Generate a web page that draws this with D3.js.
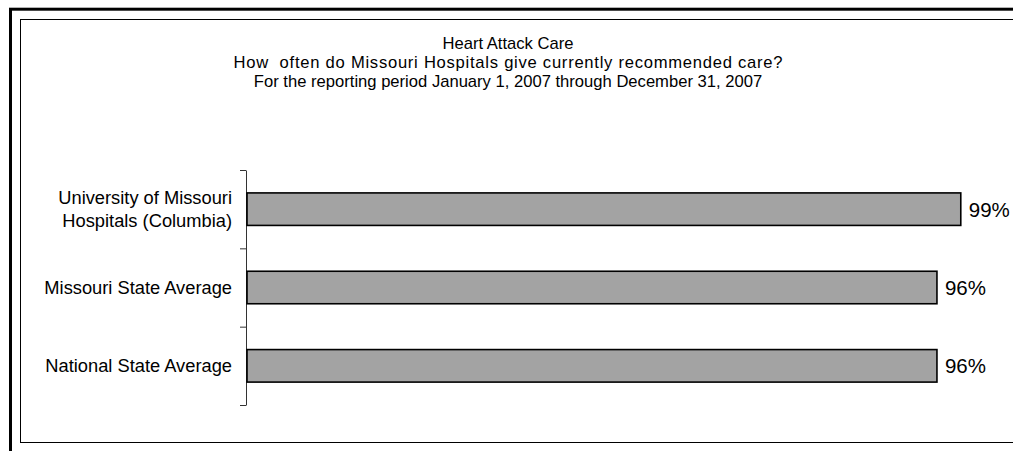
<!DOCTYPE html>
<html>
<head>
<meta charset="utf-8">
<script src="https://cdn.jsdelivr.net/npm/d3@7"></script>
<style>
  body { margin: 0; background: #fff; }
  svg { display: block; font-family: Arial, "Liberation Sans", sans-serif; }
</style>
</head>
<body>
<div id="chart-area"></div>
<script>
// chart data
var titleLines = [
    "Heart Attack Care",
    "How  often do Missouri Hospitals give currently recommended care?",
    "For the reporting period January 1, 2007 through December 31, 2007"
];
var categories = [
    ["University of Missouri", "Hospitals (Columbia)"],
    ["Missouri State Average"],
    ["National State Average"]
];
var values = [0.99, 0.957, 0.957];

var width = 1013, height = 451;
var margin = {top: 170, left: 246, bottom: 46};
// second title line is set looser in the original
var titleWidths = [null, 549, null];

var svg = d3.select("#chart-area")
    .append("svg")
        .attr("width", width)
        .attr("height", height);

// outer thick frame and inner chart border
svg.append("rect")
    .attr("x", 10.5).attr("y", 9.2)
    .attr("width", width + 20).attr("height", height + 20)
    .attr("fill", "none")
    .attr("stroke", "#000")
    .attr("stroke-width", 3);

svg.append("rect")
    .attr("x", 20.5).attr("y", 19.5)
    .attr("width", width + 20).attr("height", 423)
    .attr("fill", "#fff")
    .attr("stroke", "#000")
    .attr("stroke-width", 1);

// title
svg.append("g")
    .attr("class", "title")
    .selectAll("text")
    .data(titleLines)
    .enter()
    .append("text")
        .attr("x", 508)
        .attr("y", (d, i) => 49 + i * 19)
        .attr("text-anchor", "middle")
        .attr("textLength", (d, i) => titleWidths[i])
        .attr("lengthAdjust", "spacing")
        .style("white-space", "pre")
        .style("font-size", "16.6px")
        .style("fill", "#000")
        .text(d => d);

var idx = d3.range(categories.length);

var x = d3.scaleLinear()
    .domain([0, 1])
    .range([margin.left, 968]);

var y = d3.scaleBand()
    .domain(idx)
    .range([margin.top, height - margin.bottom])
    .paddingInner(0.585)
    .paddingOuter(0.2925);

// boundaries between categories, for the tick marks
var yEdge = d3.scaleLinear()
    .domain([0, categories.length])
    .range([margin.top, height - margin.bottom]);

svg.append("g")
    .attr("class", "y-axis")
    .attr("transform", "translate(" + margin.left + ",0)")
    .call(d3.axisLeft(yEdge)
        .tickValues(d3.range(categories.length + 1))
        .tickSize(6)
        .tickSizeOuter(0)
        .tickFormat(""))
    .call(g => g.selectAll("path, line").attr("stroke", "#333"));

// category labels
svg.append("g")
    .attr("class", "y-labels")
    .selectAll("text")
    .data(idx)
    .enter()
    .append("text")
        .attr("x", margin.left - 14)
        .attr("y", d => y(d) + y.bandwidth() / 2)
        .attr("text-anchor", "end")
        .style("font-size", "18.3px")
        .style("fill", "#000")
        .each(function(d) {
            var lines = categories[d];
            var t = d3.select(this);
            lines.forEach(function(l, i) {
                t.append("tspan")
                    .attr("x", margin.left - 14)
                    .attr("dy", i == 0 ? (0.35 - (lines.length - 1) * 0.62) + "em" : "1.24em")
                    .text(l);
            });
        });

// bars
svg.append("g")
    .attr("class", "bars")
    .selectAll("rect")
    .data(idx)
    .enter()
    .append("rect")
        .attr("x", x(0) + 1)
        .attr("y", d => y(d))
        .attr("width", d => x(values[d]) - x(0) - 1)
        .attr("height", y.bandwidth())
        .attr("fill", "#a3a3a3")
        .attr("stroke", "#000")
        .attr("stroke-width", 1.6);

// value labels
svg.append("g")
    .attr("class", "value-labels")
    .selectAll("text")
    .data(idx)
    .enter()
    .append("text")
        .attr("x", d => x(values[d]) + 8)
        .attr("y", d => y(d) + y.bandwidth() / 2)
        .attr("dy", "0.36em")
        .style("font-size", "20.5px")
        .style("fill", "#000")
        .text(d => d3.format(".0%")(values[d]));
</script>
</body>
</html>
